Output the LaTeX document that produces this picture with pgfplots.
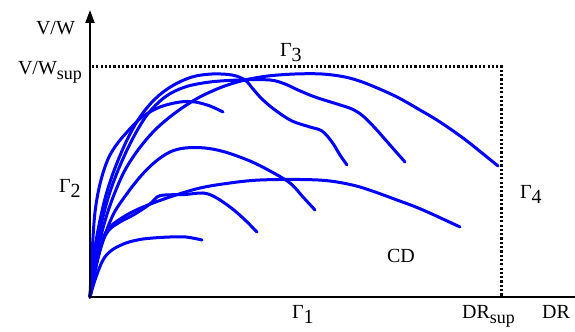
\documentclass[border=0pt]{standalone}
\usepackage{pgfplots}
\pgfplotsset{compat=1.18}
\usepackage{fontspec}
\setmainfont{Liberation Serif}
\usetikzlibrary{arrows.meta}
\definecolor{curve}{RGB}{0,0,255}
\newcommand\sub[2][9]{\raisebox{-0.45ex}{\fontsize{#1}{#1}\selectfont #2}}

\begin{document}
\begin{tikzpicture}
\begin{axis}[
  x=0.5pt, y=0.5pt,
  xmin=0, xmax=485, ymin=0, ymax=287,
  axis lines=none, clip=false,
  every node/.style={font=\fontsize{12.5}{14}\selectfont, inner sep=0pt},
  cycle list={{curve, solid, mark=none}},
  every axis plot post/.append style={curve, solid, mark=none, line width=1.5pt, smooth, tension=0.55, line cap=round, line join=round},
]
% frame of the admissible domain CD
\draw[line width=1.5pt, dash pattern=on 1.1pt off 1.05pt]
  (axis cs:2,230) -- (axis cs:412,230) -- (axis cs:412,0);

% operating curves
\addplot coordinates {(0,0) (5,17) (13,37) (22,47) (36,54) (50,57.5) (63,59) (80,60) (96,60) (112,57)};
\addplot coordinates {(0,0) (6,32) (12,54) (19,67) (30,75) (45,83) (60,93) (67,100) (75,102) (95,102.5) (113,104) (125,100) (140,90) (153,79) (167,65)};
\addplot coordinates {(0,0) (7,35) (16,65) (35,81) (63,94) (106,108) (140,114) (170,117) (210,117.5) (240,116) (270,110) (307,97) (333,87) (370,70)};
\addplot coordinates {(0,0) (7,35) (15,62) (24,84) (36,102) (50,120) (65,135) (80,145) (95,149) (115,149) (135,145) (160,136) (180,126) (200,114) (213,100) (225,87)};
\addplot coordinates {(0,0) (2,42) (4.5,80) (8,104) (13,124) (19,140) (27,153) (38,166) (52,180) (70,190) (90,195) (105,195) (120,191) (133,185)};
\addplot coordinates {(0,0) (4,42) (9,72) (16,102) (25,129) (37,157) (50,180) (65,198) (82,211) (102,220) (122,223) (142,222) (155,217) (163,208) (172,198) (185,187) (202,176) (220,170) (232,166) (242,155) (250,142) (257,132)};
\addplot coordinates {(0,0) (5,42) (11,72) (19,102) (29,129) (42,157) (57,182) (75,200) (95,210) (120,215) (150,217) (180,217) (195,213) (208,207) (225,200) (247,193) (262,188) (273,181) (285,169) (300,152) (315,135)};
\addplot coordinates {(0,0) (6,37) (13,69) (22,97) (34,125) (48,147) (65,167) (85,184) (108,199) (132,210) (155,217) (178,221) (205,223) (232,223) (255,220) (275,214) (305,201) (330,187) (350,175) (373,159) (392,144) (408,131)};

% axes
\draw[line width=1pt, -{Triangle[width=4.5pt,length=6.5pt]}] (axis cs:0,-0.5) -- (axis cs:0,287);
\draw[line width=1pt] (axis cs:-1,0) -- (axis cs:485,0);

% labels
\node[anchor=base east] at (axis cs:-8,262) {V/W};
\node[anchor=base east] at (axis cs:-1,222) {V/W\sub{sup}};
\node[anchor=base west] at (axis cs:183,240) {Γ\sub[10]{3}};
\node[anchor=base west] at (axis cs:-38,104) {Γ\sub[10]{2}};
\node[anchor=base west] at (axis cs:423,98) {Γ\sub[10]{4}};
\node[anchor=base west] at (axis cs:290,34) {CD};
\node[anchor=base west] at (axis cs:195,-22) {Γ\sub[10]{1}};
\node[anchor=base west] at (axis cs:365,-22) {DR\sub{sup}};
\node[anchor=base west] at (axis cs:445,-22) {DR};

\coordinate (bl) at (axis cs:-90,-35);
\coordinate (tr) at (axis cs:485,297);
\end{axis}
\pgfresetboundingbox
\useasboundingbox (bl) rectangle (tr);
\end{tikzpicture}
\end{document}
